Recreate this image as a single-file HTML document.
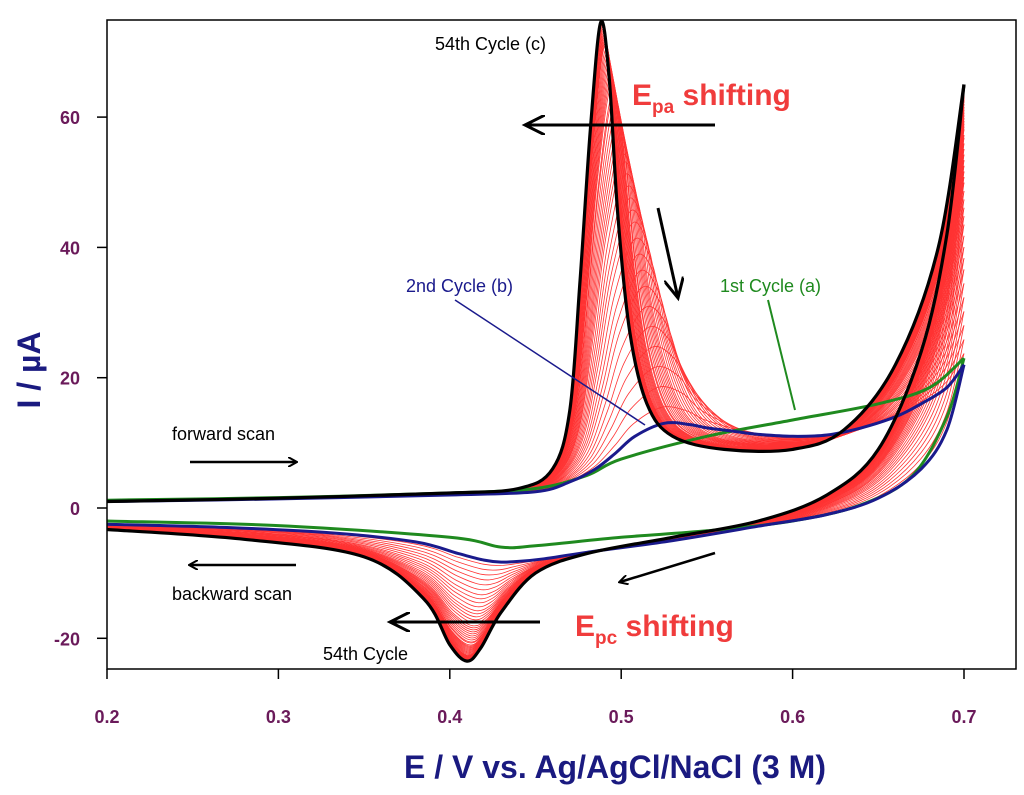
<!DOCTYPE html>
<html><head><meta charset="utf-8"><style>
html,body{margin:0;padding:0;background:#fff}
svg{display:block}
text{font-family:"Liberation Sans",Arial,sans-serif}
</style></head><body>
<svg id="chart" width="1024" height="795" viewBox="0 0 1024 795">
<defs>
<marker id="ah" markerWidth="10" markerHeight="10" refX="8" refY="5" orient="auto" markerUnits="userSpaceOnUse">
<path d="M0,0 L9,5 L0,10" fill="none" stroke="#000" stroke-width="2"/></marker>
<marker id="ahb" markerWidth="24" markerHeight="20" refX="20" refY="10" orient="auto" markerUnits="userSpaceOnUse">
<path d="M0,0 L20,10 L0,20" fill="none" stroke="#000" stroke-width="3"/></marker>
</defs>
<g id="plot"></g>
<rect x="107" y="20" width="909" height="649" fill="none" stroke="#000" stroke-width="1.5"/>
<g id="axes"></g>
<text x="615" y="778" text-anchor="middle" font-size="32" font-weight="bold" fill="#1a1a80">E / V vs. Ag/AgCl/NaCl (3 M)</text>
<text transform="translate(40,370) rotate(-90)" text-anchor="middle" font-size="32" font-weight="bold" fill="#1a1a80">I / µA</text>

<text x="435" y="50" font-size="18" fill="#000">54th Cycle (c)</text>
<text x="632" y="105" font-size="30" font-weight="bold" fill="#f03c3c">E<tspan font-size="19" dy="8">pa</tspan><tspan dy="-8"> shifting</tspan></text>
<line x1="715" y1="125" x2="525" y2="125" stroke="#000" stroke-width="3" marker-end="url(#ahb)"/>
<line x1="658" y1="208" x2="678" y2="298" stroke="#000" stroke-width="3" marker-end="url(#ahb)"/>
<text x="406" y="292" font-size="18" fill="#1a1a8c">2nd Cycle (b)</text>
<line x1="455" y1="300" x2="645" y2="425" stroke="#1a1a8c" stroke-width="1.5"/>
<text x="720" y="292" font-size="18" fill="#1f8a1f">1st Cycle (a)</text>
<line x1="768" y1="300" x2="795" y2="410" stroke="#1f8a1f" stroke-width="2"/>
<text x="172" y="440" font-size="18" fill="#000">forward scan</text>
<line x1="190" y1="462" x2="296" y2="462" stroke="#000" stroke-width="2.5" marker-end="url(#ah)"/>
<text x="172" y="600" font-size="18" fill="#000">backward scan</text>
<line x1="296" y1="565" x2="190" y2="565" stroke="#000" stroke-width="2.5" marker-end="url(#ah)"/>
<line x1="715" y1="553" x2="620" y2="582" stroke="#000" stroke-width="2.5" marker-end="url(#ah)"/>
<text x="575" y="636" font-size="30" font-weight="bold" fill="#f03c3c">E<tspan font-size="19" dy="8">pc</tspan><tspan dy="-8"> shifting</tspan></text>
<line x1="540" y1="622" x2="390" y2="622" stroke="#000" stroke-width="3" marker-end="url(#ahb)"/>
<text x="323" y="660" font-size="18" fill="#000">54th Cycle</text>
</svg>
<script>
const xTicks=[0.2,0.3,0.4,0.5,0.6,0.7];
const yTicks=[-20,0,20,40,60];
const blackFwd=[[0.2,1],[0.3,1.5],[0.4,2.3],[0.44,3],[0.46,6],[0.47,15],[0.476,35],[0.482,58],[0.488,74.5],[0.493,66],[0.498,45],[0.505,27],[0.515,16],[0.53,11],[0.56,9],[0.6,9],[0.63,12],[0.66,22],[0.685,40],[0.7,65]];
const blueFwd=[[0.2,1],[0.3,1.4],[0.4,2],[0.45,2.5],[0.47,4],[0.485,6],[0.497,8.5],[0.508,11],[0.525,13],[0.54,12.8],[0.55,12.3],[0.565,11.8],[0.58,11.3],[0.6,11],[0.62,11.2],[0.64,12.3],[0.66,14],[0.675,16],[0.69,18.5],[0.7,22]];
const blackBack=[[0.7,65],[0.69,42],[0.675,24],[0.65,9],[0.62,2],[0.58,-2],[0.53,-4.5],[0.48,-7],[0.45,-10],[0.43,-16],[0.418,-21.5],[0.41,-23.5],[0.4,-21],[0.385,-14],[0.35,-7.5],[0.28,-4.8],[0.2,-3.3]];
const blueBack=[[0.7,22],[0.69,12],[0.675,6],[0.65,1.5],[0.62,-1],[0.58,-2.8],[0.53,-5],[0.48,-6.8],[0.455,-7.8],[0.44,-8.2],[0.43,-8.3],[0.42,-8],[0.405,-7],[0.38,-5.2],[0.33,-3.8],[0.27,-3],[0.2,-2.5]];
const greenFwd=[[0.2,1.2],[0.3,1.6],[0.4,2.3],[0.45,3],[0.48,5],[0.5,7.5],[0.55,11],[0.6,13.5],[0.65,16],[0.68,18.5],[0.7,23]];
const greenBack=[[0.7,23],[0.69,14],[0.67,5],[0.64,0.5],[0.6,-2],[0.55,-3.5],[0.5,-4.5],[0.45,-5.8],[0.43,-6],[0.4,-4.5],[0.3,-2.7],[0.2,-2]];
const cycleWeights=[0.04,0.09,0.14,0.19,0.24,0.29,0.34,0.38,0.42,0.46,0.5,0.53,0.56,0.59,0.62,0.65,0.67,0.69,0.71,0.73,0.75,0.77,0.79,0.81,0.82,0.84,0.85,0.86,0.87,0.88,0.89,0.9,0.91,0.92,0.93,0.94,0.945,0.95,0.955,0.96,0.965,0.97,0.975,0.98,0.985,0.99];

const NS="http://www.w3.org/2000/svg";
const X=e=>107+(e-0.2)/0.5*857;
const Y=i=>508-i*6.515;
function path(pts){
  const p=pts.map(a=>[X(a[0]),Y(a[1])]);
  let d="M"+p[0][0].toFixed(1)+","+p[0][1].toFixed(1);
  for(let k=0;k<p.length-1;k++){
    const p0=p[k-1]||p[k],p1=p[k],p2=p[k+1],p3=p[k+2]||p[k+1];
    const c1=[p1[0]+(p2[0]-p0[0])/6,p1[1]+(p2[1]-p0[1])/6];
    const c2=[p2[0]-(p3[0]-p1[0])/6,p2[1]-(p3[1]-p1[1])/6];
    d+=" C"+c1.map(v=>v.toFixed(1))+" "+c2.map(v=>v.toFixed(1))+" "+p2.map(v=>v.toFixed(1));
  }
  return d;
}
const blend=(a,b,t)=>a.map((p,k)=>[p[0]+(b[k][0]-p[0])*t,p[1]+(b[k][1]-p[1])*t]);
const plot=document.getElementById('plot');
function add(pts,color,w,name){
  const el=document.createElementNS(NS,'path');
  el.setAttribute('d',path(pts));
  el.setAttribute('fill','none');
  el.setAttribute('stroke',color);
  el.setAttribute('stroke-width',w);
  
  
  plot.appendChild(el);
}
cycleWeights.forEach((t,k)=>{
  add(blend(blueFwd,blackFwd,t),'#f33',0.8,'red-cycle-forward');
  add(blend(blueBack,blackBack,t),'#f33',0.8,'red-cycle-backward');
});
add(greenFwd,'#1f8a1f',3,'cycle-1-forward');
add(greenBack,'#1f8a1f',3,'cycle-1-backward');
add(blueFwd,'#1a1a8c',3,'cycle-2-forward');
add(blueBack,'#1a1a8c',3,'cycle-2-backward');
add(blackFwd,'#000',3.2,'cycle-54-forward');
add(blackBack,'#000',3.2,'cycle-54-backward');

const axes=document.getElementById('axes');
xTicks.forEach(v=>{
  const l=document.createElementNS(NS,'line');
  l.setAttribute('x1',X(v));l.setAttribute('x2',X(v));l.setAttribute('y1',669);l.setAttribute('y2',679);
  l.setAttribute('stroke','#000');l.setAttribute('stroke-width',1.5);
  
  
  axes.appendChild(l);
  const t=document.createElementNS(NS,'text');
  t.setAttribute('x',X(v));t.setAttribute('y',723);t.setAttribute('text-anchor','middle');
  t.setAttribute('font-size','18');t.setAttribute('font-weight','bold');t.setAttribute('fill','#6a1a5a');
  t.textContent=v.toFixed(1);
  
  
  axes.appendChild(t);
});
yTicks.forEach(v=>{
  const l=document.createElementNS(NS,'line');
  l.setAttribute('x1',97);l.setAttribute('x2',107);l.setAttribute('y1',Y(v));l.setAttribute('y2',Y(v));
  l.setAttribute('stroke','#000');l.setAttribute('stroke-width',1.5);
  
  
  axes.appendChild(l);
  const t=document.createElementNS(NS,'text');
  t.setAttribute('x',80);t.setAttribute('y',Y(v)+7);t.setAttribute('text-anchor','end');
  t.setAttribute('font-size','18');t.setAttribute('font-weight','bold');t.setAttribute('fill','#6a1a5a');
  t.textContent=v;
  
  
  axes.appendChild(t);
});
</script>
</body></html>
